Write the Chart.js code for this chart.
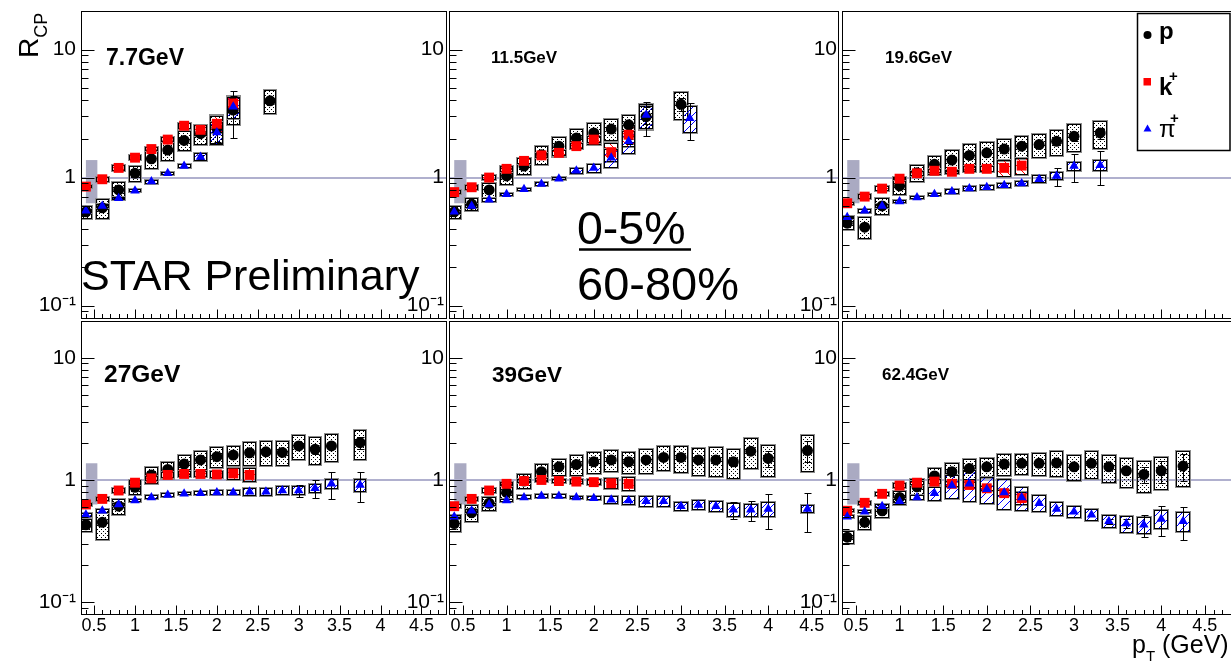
<!DOCTYPE html>
<html>
<head>
<meta charset="utf-8">
<script src="https://cdn.jsdelivr.net/npm/chart.js@4.4.1/dist/chart.umd.min.js"></script>
<style>
  html, body { margin: 0; padding: 0; background: #fff; }
  #page { position: relative; width: 1231px; height: 664px; overflow: hidden; }
  #page canvas { position: absolute; }
  #ann { position: absolute; left: 0; top: 0; }
  #ann text { font-family: "Liberation Sans", Arial, Helvetica, sans-serif; }
</style>
</head>
<body>
<div id="page">
  <canvas id="c0"></canvas>
  <canvas id="c1"></canvas>
  <canvas id="c2"></canvas>
  <canvas id="c3"></canvas>
  <canvas id="c4"></canvas>
  <canvas id="c5"></canvas>
  <svg id="ann" width="1231" height="664" xmlns="http://www.w3.org/2000/svg">
    <text x="81" y="290" font-size="43">STAR Preliminary</text>
    <text x="577" y="244" font-size="46.5">0-5%</text>
    <line x1="579" y1="249.5" x2="691" y2="249.5" stroke="#000" stroke-width="2.5"/>
    <text x="577" y="300" font-size="47">60-80%</text>
    <text transform="translate(38,58) rotate(-90)" font-size="28">R<tspan font-size="18" dy="9">CP</tspan></text>
    <text x="1132" y="653" font-size="25">p<tspan font-size="15" dy="8">T</tspan><tspan font-size="25" dy="-8"> (GeV)</tspan></text>

    <text x="106" y="65" font-size="23" font-weight="bold">7.7GeV</text>
    <text x="491" y="63" font-size="17" font-weight="bold">11.5GeV</text>
    <text x="885" y="63" font-size="17" font-weight="bold">19.6GeV</text>
    <text x="104" y="382" font-size="24.5" font-weight="bold">27GeV</text>
    <text x="492" y="382" font-size="22.5" font-weight="bold">39GeV</text>
    <text x="882" y="380" font-size="17" font-weight="bold">62.4GeV</text>

    <rect x="1137.5" y="13.5" width="92.5" height="137" fill="#fff" stroke="#000" stroke-width="1.5"/>
    <circle cx="1147.5" cy="35" r="4" fill="#000"/>
    <text x="1159" y="39" font-size="24" font-weight="bold">p</text>
    <rect x="1143.5" y="78" width="7.5" height="7.5" fill="#f00"/>
    <text x="1159" y="95" font-size="24" font-weight="bold">k<tspan x="1169" dy="-14" font-size="15">+</tspan></text>
    <polygon points="1143.5,131.5 1151.5,131.5 1147.5,124.5" fill="#00f"/>
    <text x="1159" y="137" font-size="24">π<tspan x="1170" dy="-14" font-size="15" font-weight="bold">+</tspan></text>
  </svg>
</div>
<script>
var FONT = '"Liberation Sans", Arial, Helvetica, sans-serif';

// axis ranges and labels
var X_MIN = 0.34, X_MAX = 4.8, Y_MIN = 0.08, Y_MAX = 20;
var xLabels = [0.5, 1, 1.5, 2, 2.5, 3, 3.5, 4, 4.5];
var yLabelVals = [0.1, 1, 10];
var yLabelText = ['10\u207B\u00B9', '1', '10'];
// grey normalisation band: x from, x to, R from, R to
var normBox = [0.40, 0.54, 0.63, 1.37];

// ---- 7.7 GeV ----
var pt77p    = [0.4, 0.6, 0.8, 1.0, 1.2, 1.4, 1.6, 1.8, 2.0, 2.2, 2.65];
var rcp77p   = [0.54, 0.58, 0.80, 1.08, 1.40, 1.64, 1.95, 2.20, 2.45, 3.37, 3.98];
var sys77p   = [0.12, 0.18, 0.15, 0.14, 0.17, 0.18, 0.18, 0.18, 0.25, 0.24, 0.21];
var stat77p  = [0, 0, 0, 0, 0, 0, 0, 0.04, 0.08, 0.40, 0.05];
var pt77k    = [0.4, 0.6, 0.8, 1.0, 1.2, 1.4, 1.6, 1.8, 2.0, 2.2];
var rcp77k   = [0.85, 0.97, 1.19, 1.43, 1.67, 1.98, 2.54, 2.36, 2.63, 3.79];
var sys77k   = [0.03, 0.05, 0.05, 0.04, 0.04, 0.04, 0.05, 0.10, 0.15, 0.15];
var stat77k  = [0, 0, 0, 0, 0, 0, 0, 0.05, 0.08, 0.15];
var pt77pi   = [0.4, 0.6, 0.8, 1.0, 1.2, 1.4, 1.6, 1.8, 2.0, 2.2];
var rcp77pi  = [0.55, 0.60, 0.69, 0.79, 0.93, 1.08, 1.23, 1.45, 2.25, 3.58];
var sys77pi  = [0.03, 0.03, 0.03, 0.03, 0.02, 0.03, 0.03, 0.07, 0.20, 0.20];
var stat77pi = [0, 0, 0, 0, 0, 0, 0, 0.03, 0.15, 0.10];

// ---- 11.5 GeV ----
var pt115p    = [0.4, 0.6, 0.8, 1.0, 1.2, 1.4, 1.6, 1.8, 2.0, 2.2, 2.4, 2.6, 3.0];
var rcp115p   = [0.54, 0.62, 0.80, 1.03, 1.23, 1.51, 1.76, 2.04, 2.23, 2.39, 2.58, 2.99, 3.73];
var sys115p   = [0.12, 0.12, 0.14, 0.15, 0.15, 0.17, 0.18, 0.18, 0.19, 0.19, 0.19, 0.22, 0.24];
var stat115p  = [0, 0, 0, 0, 0, 0, 0, 0, 0, 0, 0.04, 0.30, 0.12];
var pt115k    = [0.4, 0.6, 0.8, 1.0, 1.2, 1.4, 1.6, 1.8, 2.0, 2.2, 2.4];
var rcp115k   = [0.77, 0.84, 1.00, 1.17, 1.35, 1.49, 1.56, 1.76, 1.98, 1.58, 2.16];
var sys115k   = [0.03, 0.04, 0.04, 0.05, 0.05, 0.05, 0.05, 0.05, 0.06, 0.17, 0.20];
var stat115k  = [0, 0, 0, 0, 0, 0, 0, 0, 0, 0.06, 0.12];
var pt115pi   = [0.4, 0.6, 0.8, 1.0, 1.2, 1.4, 1.6, 1.8, 2.0, 2.2, 2.4, 2.6, 3.1];
var rcp115pi  = [0.54, 0.60, 0.67, 0.74, 0.81, 0.89, 0.98, 1.13, 1.19, 1.43, 1.92, 3.08, 2.91];
var sys115pi  = [0.03, 0.03, 0.03, 0.03, 0.03, 0.03, 0.03, 0.05, 0.08, 0.17, 0.20, 0.22, 0.24];
var stat115pi = [0, 0, 0, 0, 0, 0, 0, 0, 0, 0.03, 0.05, 0.15, 0.32];

// ---- 19.6 GeV ----
var pt196p    = [0.4, 0.6, 0.8, 1.0, 1.2, 1.4, 1.6, 1.8, 2.0, 2.2, 2.4, 2.6, 2.8, 3.0, 3.3];
var rcp196p   = [0.44, 0.41, 0.60, 0.86, 1.09, 1.27, 1.37, 1.49, 1.56, 1.67, 1.76, 1.81, 1.92, 2.10, 2.23];
var sys196p   = [0.12, 0.19, 0.15, 0.15, 0.16, 0.17, 0.20, 0.23, 0.21, 0.20, 0.21, 0.22, 0.23, 0.25, 0.25];
var stat196p  = [0, 0, 0, 0, 0, 0, 0, 0, 0, 0, 0, 0, 0.03, 0.08, 0.10];
var pt196k    = [0.4, 0.6, 0.8, 1.0, 1.2, 1.4, 1.6, 1.8, 2.0, 2.2, 2.4];
var rcp196k   = [0.63, 0.71, 0.82, 0.98, 1.08, 1.13, 1.11, 1.17, 1.17, 1.19, 1.24];
var sys196k   = [0.03, 0.04, 0.04, 0.03, 0.04, 0.04, 0.04, 0.05, 0.06, 0.15, 0.15];
var stat196k  = [0, 0, 0, 0, 0, 0, 0, 0, 0, 0, 0];
var pt196pi   = [0.4, 0.6, 0.8, 1.0, 1.2, 1.4, 1.6, 1.8, 2.0, 2.2, 2.4, 2.6, 2.8, 3.0, 3.3];
var rcp196pi  = [0.49, 0.55, 0.60, 0.65, 0.70, 0.74, 0.78, 0.82, 0.84, 0.87, 0.90, 0.97, 1.03, 1.23, 1.25];
var sys196pi  = [0.03, 0.03, 0.03, 0.03, 0.03, 0.03, 0.04, 0.04, 0.04, 0.05, 0.05, 0.07, 0.07, 0.08, 0.10];
var stat196pi = [0, 0, 0, 0, 0, 0, 0, 0, 0, 0, 0, 0.04, 0.16, 0.25, 0.30];

// ---- 27 GeV ----
var pt27p    = [0.4, 0.6, 0.8, 1.0, 1.2, 1.4, 1.6, 1.8, 2.0, 2.2, 2.4, 2.6, 2.8, 3.0, 3.2, 3.4, 3.75];
var rcp27p   = [0.43, 0.45, 0.61, 0.87, 1.10, 1.22, 1.35, 1.46, 1.55, 1.60, 1.67, 1.70, 1.68, 1.90, 1.78, 1.90, 2.02];
var sys27p   = [0.125, 0.28, 0.15, 0.14, 0.16, 0.16, 0.18, 0.19, 0.19, 0.19, 0.22, 0.23, 0.23, 0.23, 0.26, 0.26, 0.28];
var stat27p  = [0, 0, 0, 0, 0, 0, 0, 0, 0, 0, 0, 0, 0, 0.04, 0.08, 0.06, 0.12];
var pt27k    = [0.4, 0.6, 0.8, 1.0, 1.2, 1.4, 1.6, 1.8, 2.0, 2.2, 2.4];
var rcp27k   = [0.63, 0.70, 0.82, 0.95, 1.03, 1.10, 1.12, 1.12, 1.11, 1.13, 1.10];
var sys27k   = [0.02, 0.04, 0.05, 0.05, 0.05, 0.05, 0.05, 0.05, 0.06, 0.11, 0.13];
var stat27k  = [0, 0, 0, 0, 0, 0, 0, 0, 0, 0, 0];
var pt27pi   = [0.4, 0.6, 0.8, 1.0, 1.2, 1.4, 1.6, 1.8, 2.0, 2.2, 2.4, 2.6, 2.8, 3.0, 3.2, 3.4, 3.75];
var rcp27pi  = [0.52, 0.56, 0.63, 0.68, 0.72, 0.755, 0.77, 0.78, 0.79, 0.79, 0.80, 0.80, 0.82, 0.82, 0.855, 0.93, 0.91];
var sys27pi  = [0.02, 0.02, 0.02, 0.02, 0.02, 0.02, 0.03, 0.04, 0.05, 0.05, 0.07, 0.08, 0.08, 0.08, 0.08, 0.10, 0.12];
var stat27pi = [0, 0, 0, 0, 0, 0, 0, 0, 0, 0, 0, 0, 0, 0.11, 0.16, 0.25, 0.28];

// ---- 39 GeV ----
var pt39p    = [0.4, 0.6, 0.8, 1.0, 1.2, 1.4, 1.6, 1.8, 2.0, 2.2, 2.4, 2.6, 2.8, 3.0, 3.2, 3.4, 3.6, 3.8, 4.0, 4.45];
var rcp39p   = [0.44, 0.54, 0.645, 0.79, 0.98, 1.17, 1.28, 1.34, 1.41, 1.46, 1.41, 1.46, 1.53, 1.53, 1.46, 1.46, 1.41, 1.72, 1.50, 1.74];
var sys39p   = [0.14, 0.16, 0.13, 0.17, 0.14, 0.16, 0.16, 0.20, 0.20, 0.21, 0.21, 0.23, 0.23, 0.25, 0.26, 0.27, 0.28, 0.28, 0.30, 0.33];
var stat39p  = [0, 0, 0, 0, 0, 0, 0, 0, 0, 0, 0, 0, 0, 0, 0, 0, 0.08, 0.05, 0.15, 0.20];
var pt39k    = [0.4, 0.6, 0.8, 1.0, 1.2, 1.4, 1.6, 1.8, 2.0, 2.2, 2.4];
var rcp39k   = [0.61, 0.70, 0.82, 0.93, 0.98, 1.00, 0.98, 0.97, 0.96, 0.94, 0.93];
var sys39k   = [0.02, 0.04, 0.04, 0.04, 0.04, 0.04, 0.04, 0.05, 0.06, 0.11, 0.13];
var stat39k  = [0, 0, 0, 0, 0, 0, 0, 0, 0, 0, 0];
var pt39pi   = [0.4, 0.6, 0.8, 1.0, 1.2, 1.4, 1.6, 1.8, 2.0, 2.2, 2.4, 2.6, 2.8, 3.0, 3.2, 3.4, 3.6, 3.8, 4.0, 4.45];
var rcp39pi  = [0.50, 0.56, 0.63, 0.68, 0.72, 0.74, 0.74, 0.72, 0.71, 0.69, 0.68, 0.67, 0.67, 0.61, 0.625, 0.61, 0.57, 0.57, 0.58, 0.58];
var sys39pi  = [0.02, 0.02, 0.02, 0.02, 0.02, 0.02, 0.02, 0.03, 0.04, 0.07, 0.09, 0.10, 0.10, 0.09, 0.09, 0.11, 0.13, 0.12, 0.14, 0.08];
var stat39pi = [0, 0, 0, 0, 0, 0, 0, 0, 0, 0, 0, 0, 0, 0, 0, 0, 0.16, 0.19, 0.32, 0.35];

// ---- 62.4 GeV ----
var pt624p    = [0.4, 0.6, 0.8, 1.0, 1.2, 1.4, 1.6, 1.8, 2.0, 2.2, 2.4, 2.6, 2.8, 3.0, 3.2, 3.4, 3.6, 3.8, 4.0, 4.25];
var rcp624p   = [0.34, 0.45, 0.56, 0.72, 0.88, 1.08, 1.17, 1.24, 1.28, 1.35, 1.37, 1.37, 1.38, 1.28, 1.37, 1.28, 1.19, 1.11, 1.19, 1.30];
var sys624p   = [0.12, 0.13, 0.13, 0.13, 0.15, 0.16, 0.17, 0.20, 0.19, 0.20, 0.20, 0.22, 0.24, 0.24, 0.25, 0.26, 0.28, 0.29, 0.30, 0.33];
var stat624p  = [0, 0, 0, 0, 0, 0, 0, 0, 0, 0, 0, 0, 0, 0, 0, 0, 0.05, 0.15, 0.20, 0.25];
var pt624k    = [0.4, 0.6, 0.8, 1.0, 1.2, 1.4, 1.6, 1.8, 2.0, 2.2, 2.4];
var rcp624k   = [0.56, 0.65, 0.77, 0.90, 0.95, 0.97, 0.93, 0.91, 0.855, 0.78, 0.71];
var sys624k   = [0.03, 0.04, 0.04, 0.04, 0.04, 0.05, 0.05, 0.05, 0.05, 0.06, 0.12];
var stat624k  = [0, 0, 0, 0, 0, 0, 0, 0, 0, 0, 0];
var pt624pi   = [0.4, 0.6, 0.8, 1.0, 1.2, 1.4, 1.6, 1.8, 2.0, 2.2, 2.4, 2.6, 2.8, 3.0, 3.2, 3.4, 3.6, 3.8, 4.0, 4.25];
var rcp624pi  = [0.50, 0.55, 0.61, 0.67, 0.72, 0.78, 0.90, 0.93, 0.84, 0.79, 0.72, 0.645, 0.58, 0.55, 0.52, 0.46, 0.44, 0.43, 0.48, 0.46];
var sys624pi  = [0.03, 0.03, 0.04, 0.04, 0.05, 0.13, 0.23, 0.29, 0.25, 0.28, 0.22, 0.16, 0.13, 0.12, 0.12, 0.12, 0.16, 0.16, 0.18, 0.19];
var stat624pi = [0, 0, 0, 0, 0, 0, 0, 0, 0, 0, 0, 0, 0, 0, 0, 0.05, 0.08, 0.20, 0.28, 0.30];

var panels = [
  {id: 'c0', col: 0, row: 0, p: [pt77p, rcp77p, sys77p, stat77p], k: [pt77k, rcp77k, sys77k, stat77k], pi: [pt77pi, rcp77pi, sys77pi, stat77pi]},
  {id: 'c1', col: 1, row: 0, p: [pt115p, rcp115p, sys115p, stat115p], k: [pt115k, rcp115k, sys115k, stat115k], pi: [pt115pi, rcp115pi, sys115pi, stat115pi]},
  {id: 'c2', col: 2, row: 0, p: [pt196p, rcp196p, sys196p, stat196p], k: [pt196k, rcp196k, sys196k, stat196k], pi: [pt196pi, rcp196pi, sys196pi, stat196pi]},
  {id: 'c3', col: 0, row: 1, p: [pt27p, rcp27p, sys27p, stat27p], k: [pt27k, rcp27k, sys27k, stat27k], pi: [pt27pi, rcp27pi, sys27pi, stat27pi]},
  {id: 'c4', col: 1, row: 1, p: [pt39p, rcp39p, sys39p, stat39p], k: [pt39k, rcp39k, sys39k, stat39k], pi: [pt39pi, rcp39pi, sys39pi, stat39pi]},
  {id: 'c5', col: 2, row: 1, p: [pt624p, rcp624p, sys624p, stat624p], k: [pt624k, rcp624k, sys624k, stat624k], pi: [pt624pi, rcp624pi, sys624pi, stat624pi]}
];

// page layout of the six frames
var colEdges = [[81, 449], [449, 841], [842, 1234]];
var rowEdges = [[11, 321], [321, 614]];
var ML = 80, MT = 12, MR = 4, MB = [4, 46];
var BOX_HW = 0.078;

var species = {
  p:  {style: 'circle',   color: '#000000', radius: 5.5, order: 3},
  k:  {style: 'rect',     color: '#ff0000', radius: 7,   order: 2},
  pi: {style: 'triangle', color: '#0000ff', radius: 5.5, order: 1}
};

var xTickVals = [];
for (var t = 4; t <= 48; t++) xTickVals.push(t / 10);
var yTickVals = [];
[0.01, 0.1, 1, 10].forEach(function (d) {
  for (var m = 1; m <= 9; m++) {
    var v = +(m * d).toFixed(3);
    if (v >= Y_MIN && v <= Y_MAX) yTickVals.push(v);
  }
});

var tile = function (size, paint) {
  var c = document.createElement('canvas');
  c.width = c.height = size;
  paint(c.getContext('2d'), size);
  return c;
};
var dotTile = tile(4, function (g) {
  g.fillStyle = '#000';
  g.fillRect(0, 0, 1, 1);
  g.fillRect(2, 2, 1, 1);
});
var hatchTile = function (color, rising) {
  return tile(8, function (g, s) {
    g.strokeStyle = color;
    g.lineWidth = 1;
    g.beginPath();
    [-s, 0, s].forEach(function (o) {
      if (rising) { g.moveTo(o, s); g.lineTo(o + s, 0); }
      else { g.moveTo(o, 0); g.lineTo(o + s, s); }
    });
    g.stroke();
  });
};
var tiles = {p: dotTile, k: hatchTile('#ff0000', false), pi: hatchTile('#0000ff', true)};

var drawSys = function (ctx, ds, xs, ys, fill) {
  ds.data.forEach(function (pt, i) {
    var s = ds.sys[i];
    var l = Math.round(xs.getPixelForValue(pt.x - BOX_HW));
    var r = Math.round(xs.getPixelForValue(pt.x + BOX_HW));
    var top = Math.round(ys.getPixelForValue(pt.y * (1 + s)));
    var bot = Math.round(ys.getPixelForValue(pt.y * (1 - s)));
    if (bot - top < 3) { top -= 1; bot += 1; }
    ctx.fillStyle = fill;
    ctx.fillRect(l, top, r - l, bot - top);
    ctx.lineWidth = 1;
    ctx.strokeStyle = '#8c8c8c';
    ctx.strokeRect(l - 0.5, top - 0.5, r - l + 1, bot - top + 1);
    ctx.strokeStyle = '#000';
    ctx.strokeRect(l + 0.5, top + 0.5, r - l - 1, bot - top - 1);
  });
};

var drawStat = function (ctx, ds, xs, ys) {
  ctx.strokeStyle = '#000';
  ctx.lineWidth = 1;
  ds.data.forEach(function (pt, i) {
    var e = ds.stat[i];
    if (!e) return;
    var px = Math.round(xs.getPixelForValue(pt.x)) + 0.5;
    var top = Math.round(ys.getPixelForValue(pt.y * (1 + e))) + 0.5;
    var bot = Math.round(ys.getPixelForValue(pt.y * (1 - e))) + 0.5;
    ctx.beginPath();
    ctx.moveTo(px, top); ctx.lineTo(px, bot);
    ctx.moveTo(px - 3, top); ctx.lineTo(px + 4, top);
    ctx.moveTo(px - 3, bot); ctx.lineTo(px + 4, bot);
    ctx.stroke();
  });
};

var rcpPlugin = {
  id: 'rcp',
  beforeDatasetsDraw: function (chart) {
    var ctx = chart.ctx, a = chart.chartArea, xs = chart.scales.x, ys = chart.scales.y;
    ctx.save();
    ctx.beginPath();
    ctx.rect(a.left, a.top, a.right - a.left, a.bottom - a.top);
    ctx.clip();

    var nx0 = xs.getPixelForValue(normBox[0]), nx1 = xs.getPixelForValue(normBox[1]);
    var ny0 = ys.getPixelForValue(normBox[3]), ny1 = ys.getPixelForValue(normBox[2]);
    ctx.fillStyle = 'rgb(170,170,194)';
    ctx.fillRect(nx0, ny0, nx1 - nx0, ny1 - ny0);

    var y1 = Math.round(ys.getPixelForValue(1));
    ctx.strokeStyle = 'rgb(176,176,206)';
    ctx.lineWidth = 2;
    ctx.beginPath();
    ctx.moveTo(a.left, y1);
    ctx.lineTo(a.right, y1);
    ctx.stroke();

    var byKind = {};
    chart.data.datasets.forEach(function (ds) { byKind[ds.kind] = ds; });
    ['p', 'k', 'pi'].forEach(function (kind) {
      drawSys(ctx, byKind[kind], xs, ys, ctx.createPattern(tiles[kind], 'repeat'));
    });
    ['p', 'k', 'pi'].forEach(function (kind) {
      drawStat(ctx, byKind[kind], xs, ys);
    });
    ctx.restore();
  },
  afterDraw: function (chart) {
    var ctx = chart.ctx, a = chart.chartArea, xs = chart.scales.x, ys = chart.scales.y;
    var L = Math.round(a.left) + 0.5, R = Math.round(a.right) + 0.5;
    var T = Math.round(a.top) + 0.5, B = Math.round(a.bottom) + 0.5;
    ctx.save();
    ctx.strokeStyle = '#000';
    ctx.lineWidth = 1;
    ctx.strokeRect(L, T, R - L, B - T);
    ctx.beginPath();
    ys.ticks.forEach(function (tk) {
      var py = Math.round(ys.getPixelForValue(tk.value)) + 0.5;
      var len = yLabelVals.indexOf(tk.value) >= 0 ? 13 : 7;
      ctx.moveTo(L, py); ctx.lineTo(L + len, py);
    });
    xs.ticks.forEach(function (tk) {
      var px = Math.round(xs.getPixelForValue(tk.value)) + 0.5;
      var len = xLabels.indexOf(tk.value) >= 0 ? 9 : 4.5;
      ctx.moveTo(px, B); ctx.lineTo(px, B - len);
    });
    ctx.stroke();
    ctx.restore();
  }
};

var makeSet = function (kind, arr) {
  var st = species[kind];
  return {
    label: kind,
    kind: kind,
    data: arr[0].map(function (x, i) { return {x: x, y: arr[1][i]}; }),
    sys: arr[2],
    stat: arr[3],
    showLine: false,
    pointStyle: st.style,
    pointRadius: st.radius,
    pointBackgroundColor: st.color,
    pointBorderColor: st.color,
    pointBorderWidth: 0,
    order: st.order
  };
};

panels.forEach(function (pn) {
  var c = colEdges[pn.col], r = rowEdges[pn.row];
  var cv = document.getElementById(pn.id);
  cv.width = ML + (c[1] - c[0]) + MR;
  cv.height = MT + (r[1] - r[0]) + MB[pn.row];
  cv.style.left = (c[0] - ML) + 'px';
  cv.style.top = (r[0] - MT) + 'px';

  new Chart(cv, {
    type: 'scatter',
    data: {datasets: [makeSet('pi', pn.pi), makeSet('k', pn.k), makeSet('p', pn.p)]},
    options: {
      responsive: false,
      animation: false,
      events: [],
      layout: {padding: {top: MT, right: MR, left: 0, bottom: 0}},
      plugins: {legend: {display: false}, tooltip: {enabled: false}},
      scales: {
        x: {
          type: 'linear', min: X_MIN, max: X_MAX, bounds: 'data',
          grid: {display: false, drawTicks: false},
          border: {display: false},
          afterBuildTicks: function (s) { s.ticks = xTickVals.map(function (v) { return {value: v}; }); },
          afterFit: function (s) { s.height = MB[pn.row]; s.paddingLeft = 0; s.paddingRight = 0; },
          ticks: {
            display: pn.row === 1, autoSkip: false, maxRotation: 0, minRotation: 0,
            padding: 1, color: '#000', font: {family: FONT, size: 18},
            callback: function (v) { return xLabels.indexOf(v) >= 0 ? String(v) : ''; }
          }
        },
        y: {
          type: 'logarithmic', min: Y_MIN, max: Y_MAX, bounds: 'data',
          grid: {display: false, drawTicks: false},
          border: {display: false},
          afterBuildTicks: function (s) { s.ticks = yTickVals.map(function (v) { return {value: v}; }); },
          afterFit: function (s) { s.width = ML; s.paddingTop = 0; s.paddingBottom = 0; },
          ticks: {
            autoSkip: false, padding: 5, color: '#000', font: {family: FONT, size: 21},
            callback: function (v) {
              var i = yLabelVals.indexOf(v);
              return i >= 0 ? yLabelText[i] : '';
            }
          }
        }
      }
    },
    plugins: [rcpPlugin]
  });
});
</script>
</body>
</html>
